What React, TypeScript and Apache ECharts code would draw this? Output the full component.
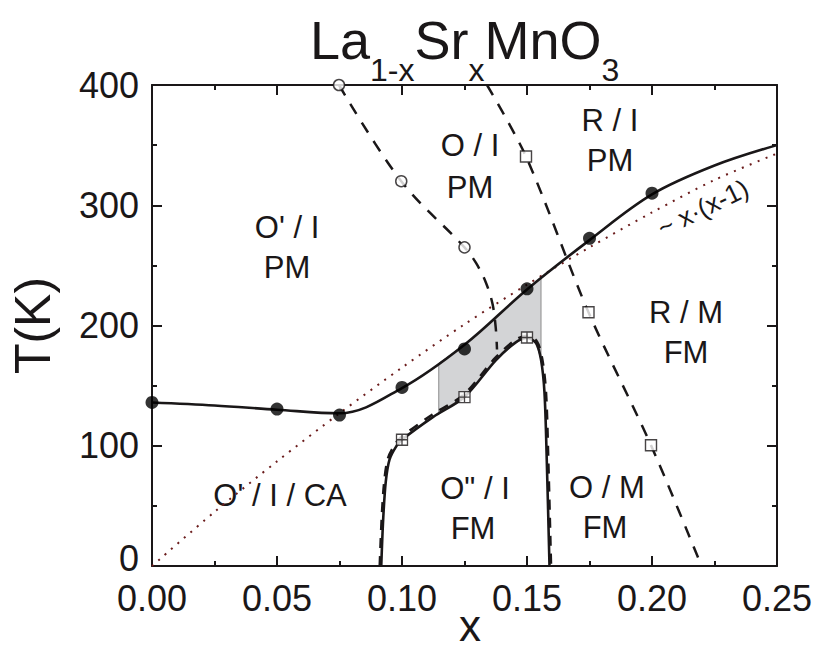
import React, { useEffect, useRef } from 'react';
import * as echarts from 'echarts';

// ---- tick labels ----
const xTickLabels = ['0.00', '0.05', '0.10', '0.15', '0.20', '0.25'];
const yTickLabels = ['0', '100', '200', '300', '400'];

// ---- filled circles (T_C / T_N boundary) ----
const filledX = [0, 0.05, 0.075, 0.1, 0.125, 0.15, 0.175, 0.2];
const filledT = [136, 130.5, 125.5, 148.5, 180.5, 230.5, 272.5, 310];

// ---- solid upper curve through filled circles ----
const upperX = [0, 0.025, 0.05, 0.075, 0.1, 0.125, 0.15, 0.175, 0.2, 0.225, 0.25];
const upperT = [136, 133.5, 130, 127, 148, 184, 230, 271, 309, 333, 350];

// ---- open circles + dashed line (O'/O boundary) ----
const openCircX = [0.0748, 0.0997, 0.125];
const openCircT = [400, 320, 265];
const dashAX = [0.0748, 0.0997, 0.125, 0.1296, 0.1335, 0.1362, 0.1375, 0.138];
const dashAT = [400, 320, 265, 252, 236, 218, 198, 180];

// ---- open squares + dashed line (O/R boundary) ----
const openSqX = [0.1496, 0.1746, 0.1996];
const openSqT = [340.5, 211, 100.4];
const dashBX = [0.134, 0.1496, 0.1746, 0.1996, 0.2198];
const dashBT = [400, 340.5, 211, 100.4, 0];

// ---- crossed squares + lower boundary (O'' phase) ----
const crossSqX = [0.1, 0.125, 0.15];
const crossSqT = [105, 140.5, 190];
const lowerX = [0.0917, 0.0925, 0.0935, 0.095, 0.0977, 0.1, 0.1125, 0.125, 0.1375, 0.1455, 0.15, 0.1536, 0.1556, 0.157, 0.1579, 0.159];
const lowerT = [0, 40, 70, 88.5, 99.5, 105, 124, 140.6, 171, 186, 189.6, 185.5, 171.6, 144, 88.5, 0];
const lowerDashX = [0.0911, 0.0919, 0.0929, 0.0944, 0.0972, 0.0996, 0.1122, 0.1247, 0.1373, 0.1454, 0.15, 0.1539, 0.1561, 0.1576, 0.1585, 0.1596];
const lowerDashT = [0, 40, 70, 89.5, 101, 107, 126, 142.5, 173, 188, 191.5, 187, 172, 144, 88.5, 0];

// ---- shaded (phase-separated) region ----
const shadeX = [0.1147, 0.1147, 0.125, 0.1375, 0.15, 0.1556, 0.1556, 0.1536, 0.15, 0.1455, 0.1375, 0.125, 0.1147];
const shadeT = [128, 168.5, 184, 206, 230, 240, 171.6, 185.5, 189.6, 186, 171, 140.6, 128];

// ---- dotted ~x(x-1) curve ----
const dotX = [0, 0.025, 0.05, 0.075, 0.1, 0.125, 0.15, 0.175, 0.2, 0.225, 0.25];
const dotT = [0, 45, 87, 127, 165, 201, 234, 265, 294, 321, 343];

// ---- region labels ----
const regionLabels = [
  { text: "O' / I", x: 287, y: 227 },
  { text: 'PM', x: 287, y: 267 },
  { text: 'O / I', x: 470, y: 145 },
  { text: 'PM', x: 470, y: 187 },
  { text: 'R / I', x: 610, y: 120 },
  { text: 'PM', x: 610, y: 160 },
  { text: 'R / M', x: 686, y: 312 },
  { text: 'FM', x: 686, y: 352 },
  { text: "O' / I / CA", x: 280, y: 495 },
  { text: 'O" / I', x: 475, y: 488 },
  { text: 'FM', x: 473, y: 528 },
  { text: 'O / M', x: 607, y: 487 },
  { text: 'FM', x: 605, y: 527 },
];

const FONT = '"Liberation Sans", Arial, Helvetica, sans-serif';
const INK = '#1a1718';

const zip = (xs: number[], ys: number[]) => xs.map((x, i) => [x, ys[i]]);

export default function App() {
  const ref = useRef<HTMLDivElement>(null);
  useEffect(() => {
    document.body.style.margin = '0';
    const chart = echarts.init(ref.current!, null, { renderer: 'svg' });

    const tickCommon = {
      axisLine: { show: true, onZero: false, lineStyle: { color: INK, width: 2 } },
      axisTick: { show: true, inside: true, length: 10, lineStyle: { color: INK, width: 2 } },
      minorTick: { show: true, splitNumber: 2, length: 5, lineStyle: { color: INK, width: 2 } },
      splitLine: { show: false },
    };

    const option: any = {
      animation: false,
      backgroundColor: '#ffffff',
      grid: { left: 152, right: 44, top: 85, bottom: 84, containLabel: false, outerBoundsMode: 'none' },
      xAxis: [
        {
          type: 'value', min: 0, max: 0.25, interval: 0.05, position: 'bottom',
          ...tickCommon,
          axisLabel: {
            show: true, margin: 19, fontSize: 36, lineHeight: 26, color: INK, fontFamily: FONT,
            formatter: (v: number) => xTickLabels[Math.round(v / 0.05)] ?? v.toFixed(2),
          },
        },
        {
          type: 'value', min: 0, max: 0.25, interval: 0.05, position: 'top',
          ...tickCommon, axisLabel: { show: false },
        },
      ],
      yAxis: [
        {
          type: 'value', min: 0, max: 400, interval: 100, position: 'left',
          ...tickCommon,
          axisLabel: {
            show: true, margin: 13, fontSize: 36, lineHeight: 26, color: INK, fontFamily: FONT,
            formatter: (v: number) => {
              const t = yTickLabels[Math.round(v / 100)] ?? String(v);
              return v === 0 ? `{z|${t}}` : t;
            },
            rich: {
              z: { fontSize: 36, lineHeight: 26, color: INK, fontFamily: FONT, padding: [0, 0, 16, 0] },
            },
          },
          name: 'T(K)', nameLocation: 'middle', nameGap: 94,
          nameTextStyle: { fontSize: 50, color: INK, fontFamily: FONT },
        },
        {
          type: 'value', min: 0, max: 400, interval: 100, position: 'right',
          ...tickCommon, axisLabel: { show: false },
        },
      ],
      series: [
        {
          type: 'custom',
          name: 'shade',
          z: 1,
          data: [[0.13, 180]],
          renderItem: (_params: any, api: any) => {
            const pts = shadeX.map((x, i) => api.coord([x, shadeT[i]]));
            return {
              type: 'polygon',
              shape: { points: pts },
              style: { fill: '#d3d4d6', stroke: '#8c8c8c', lineWidth: 1 },
            };
          },
        },
        {
          type: 'line', name: 'dotted', z: 2, data: zip(dotX, dotT), smooth: 0.3, symbol: 'none',
          lineStyle: { color: '#6b1c1c', width: 2, type: [2, 6.5] },
        },
        {
          type: 'line', name: 'upper', z: 3, data: zip(upperX, upperT), smooth: 0.35,
          symbol: 'none',
          lineStyle: { color: INK, width: 2.6 },
        },
        {
          type: 'line', name: 'dashA', z: 3, data: zip(dashAX, dashAT), smooth: 0.35,
          symbol: 'none', lineStyle: { color: INK, width: 2.5, type: [12, 10] },
        },
        {
          type: 'line', name: 'dashB', z: 3, data: zip(dashBX, dashBT), smooth: 0.3,
          symbol: 'none', lineStyle: { color: INK, width: 2.5, type: [12, 10] },
        },
        {
          type: 'line', name: 'lower', z: 3, data: zip(lowerX, lowerT), smooth: 0.3,
          symbol: 'none', lineStyle: { color: INK, width: 2.6 },
        },
        {
          type: 'line', name: 'lowerDash', z: 3, data: zip(lowerDashX, lowerDashT), smooth: 0.3,
          symbol: 'none', lineStyle: { color: INK, width: 2.6, type: [10, 8] },
        },
        {
          type: 'scatter', name: 'filled', z: 5, data: zip(filledX, filledT), symbol: 'circle', symbolSize: 13,
          clip: false,
          itemStyle: { color: '#000000' },
        },
        {
          type: 'scatter', name: 'openCirc', z: 5, data: zip(openCircX, openCircT), symbol: 'circle', symbolSize: 11,
          clip: false,
          itemStyle: { color: '#ffffff', borderColor: INK, borderWidth: 1.5 },
        },
        {
          type: 'scatter', name: 'openSq', z: 5, data: zip(openSqX, openSqT), symbol: 'rect', symbolSize: 11,
          itemStyle: { color: '#ffffff', borderColor: INK, borderWidth: 1.4 },
        },
        {
          type: 'scatter', name: 'crossSq', z: 5, data: zip(crossSqX, crossSqT),
          symbol: 'path://M0,0H10V10H0Z M5,0V10 M0,5H10', symbolSize: 11,
          itemStyle: { color: '#ffffff', borderColor: INK, borderWidth: 1.3 },
        },
      ],
      graphic: [
        {
          type: 'text', left: 310, top: 12,
          style: {
            text: '{a|La}{s|1-x}{a|Sr}{s|x}{a|MnO}{s|3}',
            fill: INK, fontFamily: FONT,
            rich: {
              a: { fontSize: 54, fontFamily: FONT, fill: INK, lineHeight: 74, verticalAlign: 'top', height: 56 },
              s: { fontSize: 32, fontFamily: FONT, fill: INK, lineHeight: 34, verticalAlign: 'bottom' },
            },
          },
        },
        {
          type: 'text', x: 470, y: 625,
          style: { text: 'x', fontSize: 44, fontFamily: FONT, fill: INK, align: 'center', verticalAlign: 'middle' },
        },
        ...regionLabels.map((l) => ({
          type: 'text', x: l.x, y: l.y,
          style: { text: l.text, fontSize: 31, fontFamily: FONT, fill: INK, align: 'center', verticalAlign: 'middle' },
        })),
        {
          type: 'text', x: 703, y: 208, rotation: (26 * Math.PI) / 180,
          style: { text: '~ x·(x-1)', fontSize: 26, fontFamily: FONT, fill: INK, align: 'center', verticalAlign: 'middle' },
        },
      ],
    };
    chart.setOption(option);
    return () => chart.dispose();
  }, []);
  return <div ref={ref} style={{ position: 'fixed', left: 0, top: 0, width: 821, height: 650 }} />;
}
